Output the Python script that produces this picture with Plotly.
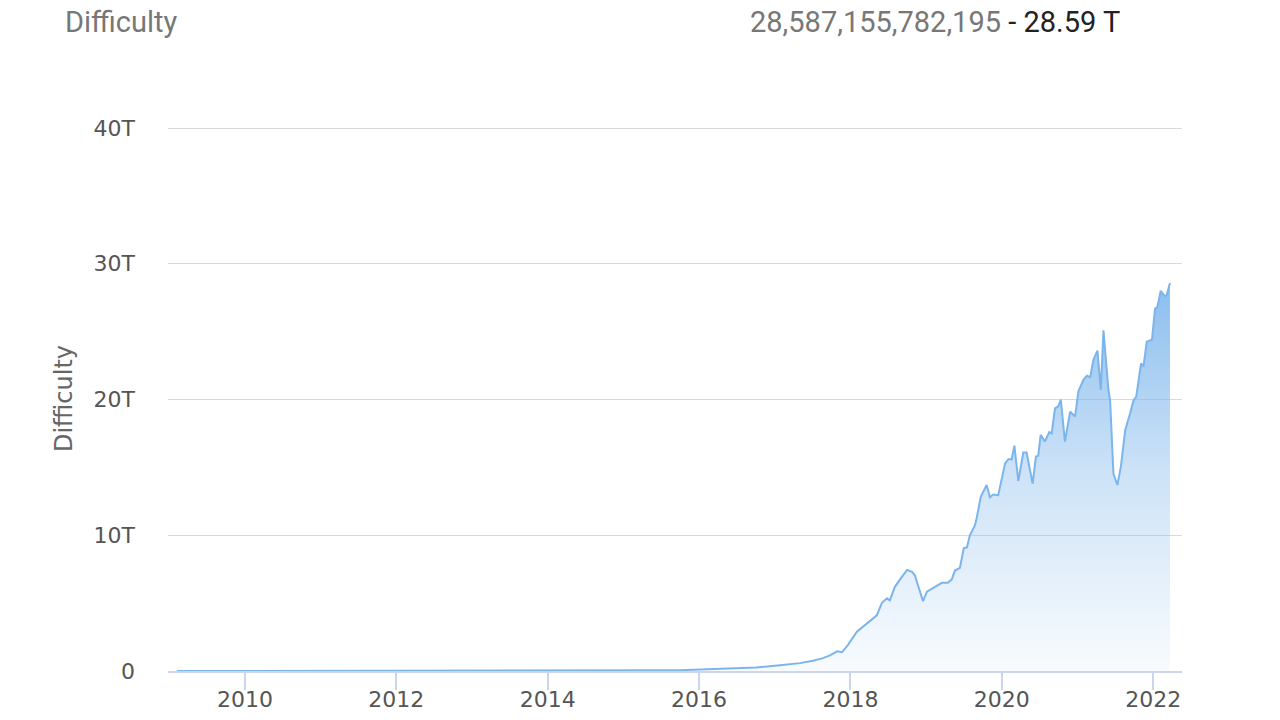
import plotly.graph_objects as go

# ---- data (difficulty in trillions) ----
dates = [
    "2009-02-05", "2009-07-01", "2010-01-01", "2010-07-01", "2011-01-01", "2011-07-01",
    "2012-01-01", "2012-07-01", "2013-01-01", "2013-07-01", "2014-01-01", "2014-04-01",
    "2014-07-01", "2014-10-01", "2015-01-01", "2015-04-01", "2015-07-01", "2015-10-01",
    "2016-01-01", "2016-04-01", "2016-07-01", "2016-10-01",
    "2017-01-26", "2017-05-02", "2017-07-04", "2017-08-21", "2017-09-24", "2017-10-28",
    "2017-11-21", "2017-12-20", "2018-02-01", "2018-03-20", "2018-05-08", "2018-06-01",
    "2018-06-26", "2018-07-10", "2018-08-03", "2018-09-07", "2018-10-01", "2018-10-25",
    "2018-11-08", "2018-11-23", "2018-12-17", "2019-01-05", "2019-02-03", "2019-03-18",
    "2019-04-16", "2019-05-05", "2019-05-20", "2019-06-13", "2019-07-02", "2019-07-17",
    "2019-07-31", "2019-08-24", "2019-09-02", "2019-09-22", "2019-10-20", "2019-11-05",
    "2019-11-21", "2019-12-15", "2020-01-17", "2020-02-02", "2020-02-18", "2020-03-02",
    "2020-03-21", "2020-04-14", "2020-04-30", "2020-05-29", "2020-06-14", "2020-06-25",
    "2020-07-07", "2020-07-27", "2020-08-17", "2020-08-29", "2020-09-14", "2020-09-30",
    "2020-10-12", "2020-11-01", "2020-11-26", "2020-12-20", "2021-01-05", "2021-01-29",
    "2021-02-15", "2021-03-03", "2021-03-18", "2021-04-07", "2021-04-23", "2021-05-06",
    "2021-05-30", "2021-06-07", "2021-06-23", "2021-07-12", "2021-07-29", "2021-08-19",
    "2021-09-12", "2021-09-28", "2021-10-11", "2021-11-03", "2021-11-15", "2021-12-01",
    "2021-12-26", "2022-01-10", "2022-01-21", "2022-02-06", "2022-02-27", "2022-03-07",
    "2022-03-23",
]
difficulty_t = [
    0.0, 0.0, 0.0, 0.0, 0.00002, 0.0015,
    0.0012, 0.0018, 0.0034, 0.026, 0.0014, 0.008,
    0.017, 0.035, 0.041, 0.047, 0.052, 0.06,
    0.11, 0.17, 0.21, 0.25,
    0.42, 0.58, 0.75, 0.95, 1.15, 1.45,
    1.38, 1.93, 2.9, 3.5, 4.1, 5.0,
    5.35, 5.2, 6.2, 6.95, 7.45, 7.3,
    7.05, 6.3, 5.15, 5.85, 6.1, 6.5,
    6.5, 6.75, 7.4, 7.6, 9.05, 9.1,
    10.0, 10.7, 11.25, 12.85, 13.7, 12.8,
    13.0, 12.95, 15.3, 15.6, 15.6, 16.6,
    14.0, 16.1, 16.1, 13.8, 15.8, 15.85,
    17.4, 16.9, 17.6, 17.5, 19.35, 19.5,
    20.0, 16.9, 19.1, 18.75, 20.6, 21.45,
    21.75, 21.65, 22.9, 23.6, 20.7, 25.1,
    20.7, 19.95, 14.55, 13.7, 15.05, 17.75,
    19.0, 19.95, 20.2, 22.65, 22.45, 24.25,
    24.4, 26.7, 26.8, 28.0, 27.6, 27.7,
    28.59,
]
y_tickvals = [0, 10, 20, 30, 40]
y_ticktext = ["0", "10T", "20T", "30T", "40T"]
header_title = "Difficulty"
header_value = "28,587,155,782,195"
header_short = "28.59 T"

LINE = "#7cb5ec"

fig = go.Figure()
fig.add_trace(go.Scatter(
    x=dates, y=difficulty_t, mode="lines",
    line=dict(color=LINE, width=2),
    fill="tozeroy",
    fillgradient=dict(
        type="vertical",
        colorscale=[[0, "rgba(124,181,236,0.05)"], [0.5, "rgba(124,181,236,0.38)"],
                    [1, "rgba(124,181,236,0.9)"]],
        start=0, stop=29,
    ),
    hoverinfo="skip", showlegend=False,
))

fig.update_layout(
    width=1280, height=720,
    margin=dict(l=168, r=98, t=126, b=49, autoexpand=False),
    paper_bgcolor="white", plot_bgcolor="white",
    font=dict(family="DejaVu Sans", color="#666666"),
    xaxis=dict(
        type="date", automargin=False,
        range=["2008-12-25", "2022-05-20"],
        tick0="2010-01-01", dtick="M24", tickformat="%Y",
        showgrid=False, zeroline=False,
        showline=True, linecolor="#ccd6eb", linewidth=1.5,
        ticks="outside", ticklen=17, tickcolor="#ccd6eb", tickwidth=1.5,
        ticklabelstandoff=-9,
        tickfont=dict(size=22, color="#555555", family="DejaVu Sans"),
    ),
    yaxis=dict(
        range=[0, 40.15], automargin=False,
        tickvals=y_tickvals, ticktext=y_ticktext,
        showgrid=True, gridcolor="#dadada", gridwidth=1.2,
        zeroline=False, showline=False,
        ticks="", ticklabelstandoff=32,
        tickfont=dict(size=22, color="#555555", family="DejaVu Sans"),
        title=dict(text="Difficulty", standoff=14,
                   font=dict(size=24, color="#666666", family="DejaVu Sans")),
    ),
    annotations=[
        dict(text=header_title, xref="paper", yref="paper", x=-0.104, y=1.191,
             xanchor="left", yanchor="middle", showarrow=False,
             font=dict(family="Roboto", size=29, color="#777777")),
        dict(text=f"<span style='color:#777777'>{header_value}</span>"
                  f"<span style='color:#222222'> - {header_short}</span>",
             xref="paper", yref="paper", x=0.9405, y=1.191,
             xanchor="right", yanchor="middle", showarrow=False,
             font=dict(family="Roboto", size=29)),
    ],
)

# remove the default 8px page margin so the 1280x720 figure fills the window exactly
fig.write_html("out.html", config={"displayModeBar": False},
               post_script="document.body.style.margin='0';")
